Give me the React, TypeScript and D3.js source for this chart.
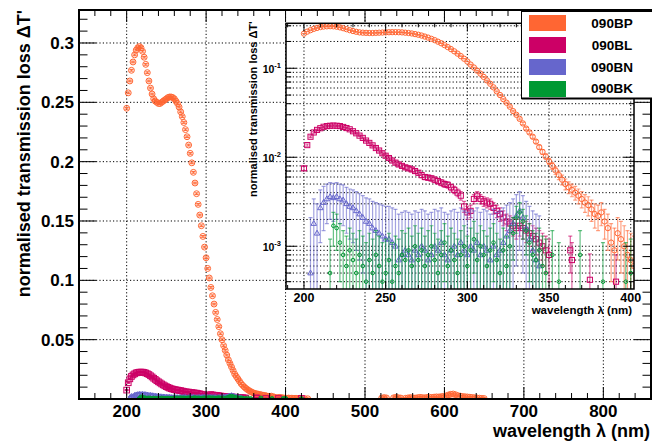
import React from 'react';
import * as d3 from 'd3';

const W = 652;
const H = 444;

type Pt = [number, number];

// ---- data: [wavelength (nm), normalised transmission loss] ----
const BP_UV: Pt[] = [
  [200,0.245],[202,0.258],[204,0.268],[206,0.277],[208,0.284],[210,0.290],[212,0.294],[214,0.296],[216,0.297],[218,0.296],
  [220,0.293],[222,0.288],[224,0.282],[226,0.275],[228,0.268],[230,0.262],[232,0.257],[234,0.253],[236,0.251],[238,0.250],
  [240,0.249],[242,0.249],[244,0.250],[246,0.251],[248,0.252],[250,0.253],[252,0.254],[254,0.2545],[256,0.2545],[258,0.254],
  [260,0.253],[262,0.251],[264,0.249],[266,0.246],[268,0.242],[270,0.238],[272,0.233],[274,0.227],[276,0.221],[278,0.214],
  [280,0.207],[282,0.199],[284,0.191],[286,0.182],[288,0.173],[290,0.164],[292,0.155],[294,0.146],[296,0.137],[298,0.128],
  [300,0.119],[302,0.110],[304,0.102],[306,0.094],[308,0.087],[310,0.080],[312,0.073],[314,0.067],[316,0.061],[318,0.055],
  [320,0.050],[322,0.045],[324,0.041],[326,0.037],[328,0.033],[330,0.030],[332,0.027],[334,0.024],[336,0.021],[338,0.019],
  [340,0.017],[342,0.015],[344,0.013],[346,0.0115],[348,0.0102],[350,0.0090],[352,0.0080],[354,0.0071],[356,0.0063],[358,0.0056],
  [360,0.0050],[362,0.0046],[364,0.0043],[366,0.0040],[368,0.0037],[370,0.0034],[372,0.0031],[374,0.0029],[376,0.0026],[378,0.0023],
  [380,0.0022],[382,0.0024],[384,0.0019],[386,0.0016],[388,0.0011],[390,0.0009],[392,0.0014],[394,0.0012],[396,0.0010],[398,0.0008],
  [400,0.0007],[402,0.0006],[404,0.0008],[406,0.0005],[408,0.0007],[410,0.0004],[412,0.0006],[414,0.0005],[416,0.0004],[418,0.0006],
  [420,0.0003],[424,0.0004],[428,0.0002],
];

const BP_VIS: Pt[] = [
  [521,0.0008],[524,0.0012],[527,0.0009],[536,0.0010],[539,0.0014],[542,0.0011],[545,0.0008],[551,0.0006],[554,0.0009],[557,0.0012],
  [560,0.0010],[563,0.0008],[566,0.0011],[569,0.0014],[572,0.0012],[575,0.0010],[578,0.0013],[581,0.0015],[584,0.0013],[587,0.0016],
  [590,0.0018],[593,0.0017],[596,0.0020],[599,0.0022],[602,0.0026],[605,0.0034],[608,0.0040],[611,0.0042],[614,0.0036],[617,0.0028],
  [620,0.0024],[623,0.0021],[626,0.0019],[629,0.0017],[632,0.0015],[635,0.0013],[638,0.0011],[641,0.0009],[644,0.0007],[647,0.0005],
  [650,0.0004],
];

const BL: Pt[] = [
  [200,0.0075],[202,0.0137],[204,0.0170],[206,0.0190],[208,0.0203],[210,0.0212],[212,0.0220],[214,0.0224],[216,0.0226],[218,0.0227],
  [220,0.0226],[222,0.0224],[224,0.0219],[226,0.0213],[228,0.0206],[230,0.0196],[232,0.0186],[234,0.0175],[236,0.0165],[238,0.0154],
  [240,0.0145],[242,0.0136],[244,0.0127],[246,0.0119],[248,0.0111],[250,0.0104],[252,0.0098],[254,0.0092],[256,0.0087],[258,0.0083],
  [260,0.0080],[262,0.0077],[264,0.0075],[266,0.0073],[268,0.0070],[270,0.0067],[272,0.0063],[274,0.0060],[276,0.0059],[278,0.0058],
  [280,0.0056],[282,0.0054],[284,0.0052],[286,0.0050],[288,0.0049],[290,0.0046],[292,0.0043],[294,0.0040],[296,0.0037],[298,0.0028],
  [300,0.0024],[302,0.0025],[304,0.0034],[306,0.0037],[308,0.0034],[310,0.0032],[312,0.0031],[314,0.0030],[316,0.0027],[318,0.0025],
  [320,0.0023],[322,0.0021],[324,0.0019],[326,0.0018],[328,0.0017],[330,0.0016],[332,0.0017],[334,0.0016],[336,0.0015],[338,0.0014],
  [340,0.0013],[342,0.0012],[344,0.0011],[346,0.0010],[348,0.0009],[350,0.0008],[363,0.0009],[364,0.0007],[375,0.00042],[391,0.0004],
  [420,0.0005],
];

const BN: Pt[] = [
  [204,0.0005],[206,0.0018],[208,0.0014],[210,0.0027],[212,0.0031],[214,0.0034],[216,0.0036],[218,0.0035],[220,0.0036],[222,0.0034],
  [224,0.0033],[226,0.0030],[228,0.0028],[230,0.0027],[232,0.0025],[234,0.0023],[236,0.0021],[238,0.0019],[240,0.0018],[242,0.0016],
  [244,0.0015],[246,0.0014],[248,0.0013],[250,0.0012],[252,0.0012],[254,0.0011],[256,0.0010],[258,0.0007],[260,0.0008],[262,0.0009],
  [264,0.0008],[266,0.0007],[268,0.0009],[270,0.0008],[272,0.0010],[274,0.0009],[276,0.0007],[278,0.0008],[280,0.0010],[282,0.0009],
  [284,0.0011],[286,0.0008],[288,0.0007],[290,0.0009],[292,0.0010],[294,0.0008],[296,0.0011],[298,0.0009],[300,0.0008],[302,0.0010],
  [304,0.0009],[306,0.0011],[308,0.0008],[310,0.0010],[312,0.0009],[314,0.0007],[316,0.0010],[318,0.0008],[320,0.0009],[322,0.0011],
  [324,0.0013],[326,0.0015],[328,0.0018],[330,0.0022],[332,0.0025],[334,0.0021],[336,0.0016],[338,0.0012],[340,0.0009],[342,0.0007],
  [344,0.0006],
];

const BK: Pt[] = [
  [216,0.0005],[218,0.0017],[220,0.0016],[222,0.0011],[224,0.0008],[226,0.0006],[228,0.0009],[230,0.0007],[232,0.0005],[234,0.0008],
  [236,0.0006],[238,0.0004],[240,0.0007],[242,0.0005],[244,0.0008],[246,0.0006],[248,0.0004],[250,0.0005],[252,0.0007],[254,0.0004],
  [256,0.0006],[258,0.0005],[260,0.0008],[262,0.0007],[264,0.0009],[266,0.0006],[268,0.0010],[270,0.0007],[272,0.0009],[274,0.0006],
  [276,0.0008],[278,0.0010],[280,0.0007],[282,0.0005],[284,0.0008],[286,0.0011],[288,0.0006],[290,0.0009],[292,0.0007],[294,0.0005],
  [296,0.0008],[298,0.0010],[300,0.0006],[302,0.0009],[304,0.0012],[306,0.0007],[308,0.0010],[310,0.0008],[312,0.0006],[314,0.0009],
  [316,0.0011],[318,0.0007],[320,0.0005],[322,0.0009],[324,0.0006],[326,0.0010],[328,0.0014],[330,0.0021],[332,0.0024],[334,0.0019],
  [336,0.0015],[338,0.0011],[340,0.0008],[342,0.0007],[344,0.0009],[346,0.0006],[348,0.0005],[352,0.0008],[356,0.0004],[369,0.0008],
  [383,0.0004],[397,0.0004],[400,0.0005],[420,0.0003],
];

// uncertainty of each measurement series (absolute)
const ERR_BP = 0.0007;
const ERR_BL = 0.0004;
const ERR_BN = 0.0016;
const ERR_BK = 0.0007;

const SERIES_NAMES = ['090BP', '090BL', '090BN', '090BK'];
const SERIES_COLORS = ['#ff6633', '#cc0066', '#6666cc', '#009933'];

const MAIN_X_TICKS = [200, 300, 400, 500, 600, 700, 800];
const MAIN_Y_TICKS = [0.05, 0.1, 0.15, 0.2, 0.25, 0.3];
const MAIN_Y_LABELS = ['0.05', '0.1', '0.15', '0.2', '0.25', '0.3'];
const INSET_X_TICKS = [200, 250, 300, 350, 400];
const INSET_Y_TICKS = [0.1, 0.01, 0.001];
const INSET_Y_EXP = ['-1', '-2', '-3'];

type Shape = 'circle' | 'square' | 'triangle' | 'dot';
interface Series { name: string; color: string; data: Pt[]; err: number; shape: Shape; }

const SERIES: Series[] = [
  { name: SERIES_NAMES[0], color: SERIES_COLORS[0], data: [...BP_UV, ...BP_VIS], err: ERR_BP, shape: 'circle' },
  { name: SERIES_NAMES[1], color: SERIES_COLORS[1], data: BL, err: ERR_BL, shape: 'square' },
  { name: SERIES_NAMES[2], color: SERIES_COLORS[2], data: BN, err: ERR_BN, shape: 'triangle' },
  { name: SERIES_NAMES[3], color: SERIES_COLORS[3], data: BK, err: ERR_BK, shape: 'dot' },
];

const FONT = '"Liberation Sans", Arial, Helvetica, sans-serif';

function Marker({ shape, x, y, color, s }: { shape: Shape; x: number; y: number; color: string; s: number }) {
  if (shape === 'circle') return <circle cx={x} cy={y} r={2.8 * s} fill="none" stroke={color} strokeWidth={1} />;
  if (shape === 'dot') return <circle cx={x} cy={y} r={1.9 * s} fill="none" stroke={color} strokeWidth={1} />;
  if (shape === 'square') {
    const h = 2.7 * s;
    return <rect x={x - h} y={y - h} width={2 * h} height={2 * h} fill="none" stroke={color} strokeWidth={1} />;
  }
  const a = 3.2 * s;
  return <path d={`M${x},${y - a} L${x + a * 0.9},${y + a * 0.6} L${x - a * 0.9},${y + a * 0.6} Z`} fill="none" stroke={color} strokeWidth={1} />;
}

function SeriesMarks({ s, xs, ys, lowClamp, size, errOpacity }: {
  s: Series; xs: d3.ScaleLinear<number, number>; ys: (v: number) => number; lowClamp: number; size: number; errOpacity: number;
}) {
  return (
    <g>
      <g stroke={s.color} strokeOpacity={errOpacity} strokeWidth={1.2}>
        {s.data.map(([w, v], i) => {
          const x = xs(w);
          const lo = ys(Math.max(v - s.err, lowClamp));
          const hi = ys(v + s.err);
          return (
            <g key={i}>
              <line x1={x} x2={x} y1={lo} y2={hi} />
              <line x1={x - 2} x2={x + 2} y1={hi} y2={hi} />
              {v - s.err > lowClamp && <line x1={x - 2} x2={x + 2} y1={lo} y2={lo} />}
            </g>
          );
        })}
      </g>
      {s.data.map(([w, v], i) => (
        <Marker key={i} shape={s.shape} x={xs(w)} y={ys(v)} color={s.color} s={size} />
      ))}
    </g>
  );
}

export default function App() {
  // main frame
  const L = 79, R = 651, T = 10, B = 399;
  const mx = d3.scaleLinear().domain([140, 860]).range([L, R]);
  const my = d3.scaleLinear().domain([0, 0.3278]).range([B, T]);

  // inset frame
  const iL = 286, iR = 634, iT = 23.3, iB = 289;
  const ix = d3.scaleLinear().domain([189, 402]).range([iL, iR]);
  const iy = d3.scaleLog().domain([3.31e-4, 0.32]).range([iB, iT]);

  const mxMinor = d3.range(140, 861, 20);
  const myMinor = d3.range(0, 0.3278, 0.01);
  const ixMinor = d3.range(190, 402, 10);
  const iyMinor: number[] = [];
  [-4, -3, -2, -1].forEach((e) => {
    for (let k = 1; k <= 9; k++) {
      const v = k * Math.pow(10, e);
      if (v >= 3.31e-4 && v <= 0.32) iyMinor.push(v);
    }
  });

  const grid = { stroke: '#000', strokeWidth: 1, strokeDasharray: '1.2 2.2' };

  return (
    <svg width={W} height={H} style={{ position: 'absolute', left: 0, top: 0, background: '#fff' }} fontFamily={FONT}>
      <defs>
        <clipPath id="mainClip"><rect x={L} y={T} width={R - L} height={B - T} /></clipPath>
        <clipPath id="insetClip"><rect x={iL} y={iT} width={iR - iL} height={iB - iT} /></clipPath>
      </defs>
      <rect x={0} y={0} width={W} height={H} fill="#fff" />

      {/* main grid */}
      <g {...grid}>
        {MAIN_X_TICKS.map((t) => <line key={'gx' + t} x1={mx(t)} x2={mx(t)} y1={T} y2={B} />)}
        {MAIN_Y_TICKS.map((t) => <line key={'gy' + t} x1={L} x2={R} y1={my(t)} y2={my(t)} />)}
      </g>

      {/* main data */}
      <g clipPath="url(#mainClip)">
        {SERIES.map((s) => (
          <SeriesMarks key={s.name} s={s} xs={mx} ys={my} lowClamp={-1} size={1.05} errOpacity={0.9} />
        ))}
      </g>

      {/* main frame and ticks */}
      <g stroke="#000" strokeWidth={1}>
        {mxMinor.map((t) => {
          const len = MAIN_X_TICKS.includes(t) ? 12 : 6;
          return (
            <g key={'tx' + t}>
              <line x1={mx(t)} x2={mx(t)} y1={B} y2={B - len} />
              <line x1={mx(t)} x2={mx(t)} y1={T} y2={T + len} />
            </g>
          );
        })}
        {myMinor.map((t, i) => {
          const len = i % 5 === 0 ? 17 : 8.5;
          return (
            <g key={'ty' + i}>
              <line x1={L} x2={L + len} y1={my(t)} y2={my(t)} />
              <line x1={R} x2={R - len} y1={my(t)} y2={my(t)} />
            </g>
          );
        })}
      </g>
      <rect x={L} y={T} width={R - L} height={B - T} fill="none" stroke="#000" strokeWidth={2} />

      {/* main tick labels */}
      <g fontSize={17} fontWeight="bold" fill="#000">
        {MAIN_Y_TICKS.map((t, i) => (
          <text key={'ly' + t} x={74} y={my(t) + 6} textAnchor="end">{MAIN_Y_LABELS[i]}</text>
        ))}
        {MAIN_X_TICKS.map((t) => (
          <text key={'lx' + t} x={mx(t)} y={417} textAnchor="middle">{t}</text>
        ))}
      </g>
      <text x={650} y={437} textAnchor="end" fontSize={18} fontWeight="bold">wavelength λ (nm)</text>
      <text transform={`translate(30,${T}) rotate(-90)`} textAnchor="end" fontSize={18} fontWeight="bold">
        normalised transmission loss ΔT'
      </text>

      {/* ---------------- inset ---------------- */}
      <rect x={iL} y={iT} width={iR - iL} height={iB - iT} fill="#fff" />
      <g {...grid}>
        {INSET_X_TICKS.map((t) => <line key={'igx' + t} x1={ix(t)} x2={ix(t)} y1={iT} y2={iB} />)}
        {iyMinor.map((t) => <line key={'igy' + t} x1={iL} x2={iR} y1={iy(t)} y2={iy(t)} />)}
      </g>
      <g clipPath="url(#insetClip)">
        {SERIES.map((s) => (
          <SeriesMarks key={s.name} s={s} xs={ix} ys={(v) => iy(v)} lowClamp={1e-5} size={0.95} errOpacity={0.6} />
        ))}
      </g>
      <g stroke="#000" strokeWidth={1}>
        {ixMinor.map((t) => {
          const len = INSET_X_TICKS.includes(t) ? 8 : 4;
          return (
            <g key={'itx' + t}>
              <line x1={ix(t)} x2={ix(t)} y1={iB} y2={iB - len} />
              <line x1={ix(t)} x2={ix(t)} y1={iT} y2={iT + len} />
            </g>
          );
        })}
        {iyMinor.map((t) => {
          const major = INSET_Y_TICKS.some((m) => Math.abs(m - t) / m < 1e-6);
          const len = major ? 10.5 : 5.2;
          return (
            <g key={'ity' + t}>
              <line x1={iL} x2={iL + len} y1={iy(t)} y2={iy(t)} />
              <line x1={iR} x2={iR - len} y1={iy(t)} y2={iy(t)} />
            </g>
          );
        })}
      </g>
      <rect x={iL} y={iT} width={iR - iL} height={iB - iT} fill="none" stroke="#000" strokeWidth={1.5} />
      <g fontWeight="bold" fill="#000">
        {INSET_Y_TICKS.map((t, i) => (
          <text key={'ily' + t} x={281} y={iy(t) + 4.5} textAnchor="end" fontSize={10.5}>
            10<tspan dy={-4.5} fontSize={7.5}>{INSET_Y_EXP[i]}</tspan>
          </text>
        ))}
        {INSET_X_TICKS.map((t) => (
          <text key={'ilx' + t} x={ix(t)} y={301.5} textAnchor="middle" fontSize={12.5}>{t}</text>
        ))}
      </g>
      <text x={632} y={314} textAnchor="end" fontSize={11.5} fontWeight="bold">wavelength λ (nm)</text>
      <text transform={`translate(257,${iT - 2}) rotate(-90)`} textAnchor="end" fontSize={11} fontWeight="bold">
        normalised transmission loss ΔT'
      </text>

      {/* legend */}
      <g>
        <rect x={521.5} y={11.5} width={131} height={87} fill="#fff" stroke="#000" strokeWidth={1} />
        <line x1={521.5} x2={652} y1={98.5} y2={98.5} stroke="#000" strokeWidth={2} />
        {SERIES.map((s, i) => (
          <g key={'lg' + s.name}>
            <rect x={529} y={15 + i * 22} width={37} height={16} fill={s.color} />
            <text x={612} y={28.3 + i * 21.7} textAnchor="middle" fontSize={13.5} fontWeight="bold">{s.name}</text>
          </g>
        ))}
      </g>
    </svg>
  );
}
